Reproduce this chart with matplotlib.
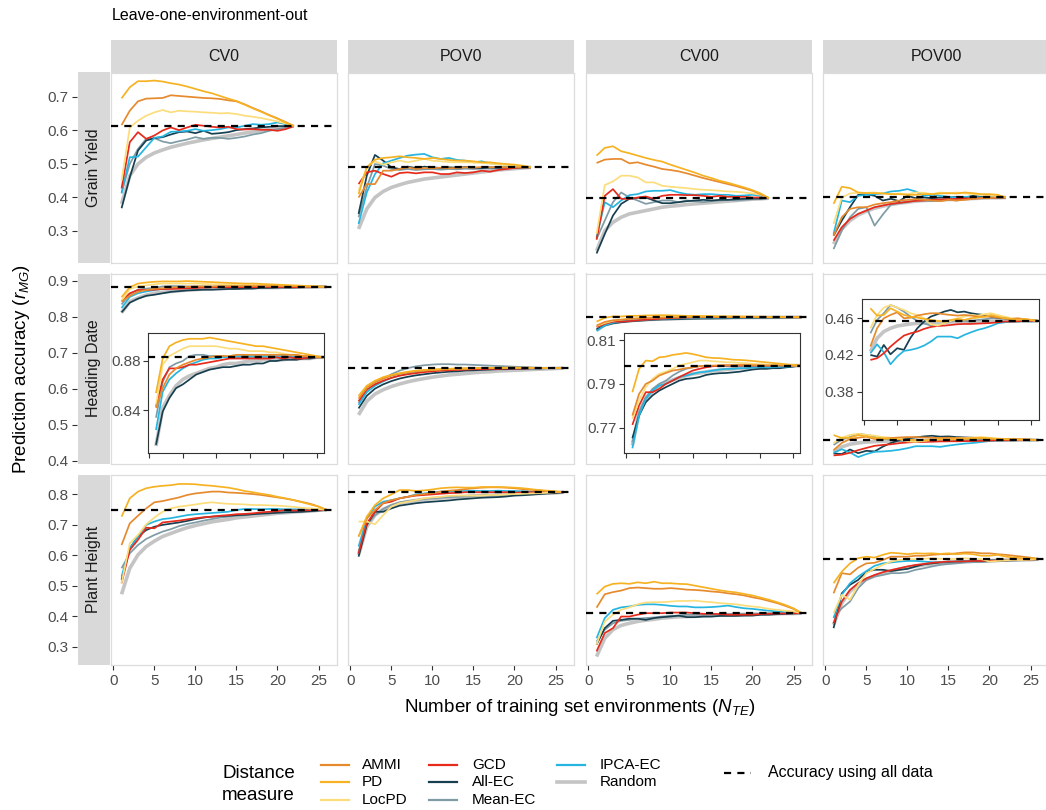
import matplotlib
matplotlib.use("Agg")
import matplotlib.pyplot as plt
from matplotlib.lines import Line2D
from matplotlib.patches import Rectangle

plt.rcParams['font.family'] = ['Liberation Sans', 'DejaVu Sans']
plt.rcParams['mathtext.fontset'] = 'custom'
plt.rcParams['mathtext.rm'] = 'Liberation Sans'
plt.rcParams['mathtext.it'] = 'Liberation Sans:italic'

# ---------------- data ----------------
methods = ["AMMI", "PD", "LocPD", "GCD", "All-EC", "Mean-EC", "IPCA-EC", "Random"]
colors = {"AMMI": "#E68A2E", "PD": "#F6B223", "LocPD": "#FCDD7C", "GCD": "#E62A1C",
          "All-EC": "#173F4F", "Mean-EC": "#7F9BA5", "IPCA-EC": "#25B5E0", "Random": "#C4C4C4"}
traits = ["Grain Yield", "Heading Date", "Plant Height"]
scenarios = ["CV0", "POV0", "CV00", "POV00"]
x_ticks = [0, 5, 10, 15, 20, 25]
y_ticks_gy = [0.3, 0.4, 0.5, 0.6, 0.7]
y_ticks_hd = [0.4, 0.5, 0.6, 0.7, 0.8, 0.9]
y_ticks_ph = [0.3, 0.4, 0.5, 0.6, 0.7, 0.8]

# accuracy using all data (dashed line), per scenario
acc_all_gy = [0.612, 0.489, 0.397, 0.399]
acc_all_hd = [0.883, 0.657, 0.7984, 0.4571]
acc_all_ph = [0.748, 0.806, 0.410, 0.587]

# ---- Grain Yield, CV0 (N = 1..22)
gy_cv0_ammi = [0.615,0.658,0.686,0.694,0.695,0.696,0.704,0.702,0.700,0.698,0.696,0.695,0.693,0.689,0.686,0.677,0.666,0.656,0.645,0.635,0.624,0.612]
gy_cv0_pd = [0.695,0.728,0.746,0.746,0.748,0.745,0.740,0.736,0.730,0.723,0.716,0.710,0.702,0.694,0.687,0.676,0.665,0.655,0.644,0.634,0.623,0.612]
gy_cv0_locpd = [0.449,0.608,0.628,0.643,0.653,0.660,0.653,0.658,0.656,0.655,0.653,0.652,0.650,0.651,0.648,0.643,0.640,0.636,0.631,0.626,0.620,0.612]
gy_cv0_gcd = [0.426,0.564,0.594,0.574,0.584,0.599,0.608,0.600,0.608,0.616,0.613,0.610,0.608,0.610,0.603,0.602,0.603,0.601,0.601,0.598,0.603,0.612]
gy_cv0_allec = [0.367,0.459,0.539,0.569,0.576,0.579,0.587,0.594,0.596,0.591,0.598,0.589,0.591,0.594,0.600,0.603,0.605,0.608,0.610,0.612,0.612,0.612]
gy_cv0_meanec = [0.414,0.499,0.544,0.574,0.576,0.566,0.561,0.567,0.572,0.579,0.574,0.577,0.577,0.574,0.577,0.581,0.587,0.591,0.598,0.603,0.608,0.612]
gy_cv0_ipca = [0.411,0.519,0.521,0.549,0.577,0.581,0.595,0.596,0.598,0.603,0.598,0.600,0.603,0.608,0.608,0.613,0.618,0.616,0.618,0.623,0.618,0.612]
gy_cv0_random = [0.380,0.464,0.499,0.519,0.532,0.541,0.549,0.555,0.561,0.566,0.571,0.575,0.579,0.583,0.587,0.591,0.595,0.598,0.602,0.606,0.610,0.612]

# ---- Grain Yield, POV0
gy_pov0_ammi = [0.399,0.439,0.439,0.479,0.479,0.484,0.489,0.484,0.487,0.486,0.488,0.486,0.487,0.489,0.488,0.490,0.489,0.490,0.489,0.489,0.489,0.489]
gy_pov0_pd = [0.409,0.489,0.512,0.517,0.519,0.522,0.519,0.517,0.514,0.517,0.514,0.511,0.509,0.509,0.507,0.504,0.504,0.501,0.499,0.497,0.494,0.489]
gy_pov0_locpd = [0.419,0.489,0.507,0.497,0.504,0.509,0.504,0.509,0.514,0.509,0.507,0.505,0.504,0.504,0.503,0.502,0.500,0.498,0.496,0.494,0.492,0.489]
gy_pov0_gcd = [0.439,0.474,0.479,0.469,0.461,0.472,0.474,0.471,0.474,0.474,0.469,0.469,0.474,0.472,0.474,0.479,0.476,0.481,0.484,0.487,0.489,0.489]
gy_pov0_allec = [0.350,0.464,0.526,0.509,0.489,0.484,0.491,0.487,0.491,0.489,0.487,0.489,0.488,0.490,0.488,0.487,0.489,0.488,0.489,0.488,0.489,0.489]
gy_pov0_meanec = [0.340,0.429,0.499,0.494,0.484,0.481,0.484,0.481,0.483,0.484,0.482,0.484,0.483,0.485,0.484,0.485,0.486,0.486,0.487,0.488,0.488,0.489]
gy_pov0_ipca = [0.320,0.414,0.469,0.501,0.509,0.517,0.524,0.527,0.529,0.519,0.514,0.517,0.511,0.509,0.504,0.507,0.501,0.499,0.497,0.494,0.491,0.489]
gy_pov0_random = [0.305,0.365,0.399,0.417,0.429,0.437,0.444,0.449,0.454,0.457,0.460,0.463,0.466,0.469,0.472,0.475,0.478,0.481,0.483,0.485,0.487,0.489]

# ---- Grain Yield, CV00
gy_cv00_ammi = [0.502,0.512,0.514,0.514,0.501,0.504,0.497,0.491,0.484,0.481,0.477,0.471,0.464,0.457,0.451,0.445,0.439,0.433,0.426,0.419,0.409,0.397]
gy_cv00_pd = [0.524,0.547,0.552,0.537,0.531,0.524,0.517,0.511,0.506,0.497,0.489,0.481,0.473,0.464,0.457,0.449,0.443,0.436,0.429,0.421,0.411,0.397]
gy_cv00_locpd = [0.290,0.436,0.447,0.464,0.464,0.459,0.444,0.444,0.434,0.431,0.429,0.427,0.424,0.422,0.421,0.419,0.417,0.416,0.414,0.411,0.407,0.397]
gy_cv00_gcd = [0.273,0.404,0.424,0.395,0.395,0.399,0.402,0.395,0.404,0.407,0.407,0.406,0.406,0.404,0.401,0.404,0.401,0.401,0.401,0.399,0.399,0.397]
gy_cv00_allec = [0.232,0.290,0.345,0.380,0.395,0.398,0.399,0.390,0.382,0.382,0.385,0.388,0.390,0.392,0.390,0.392,0.392,0.394,0.395,0.396,0.396,0.397]
gy_cv00_meanec = [0.275,0.330,0.385,0.414,0.399,0.390,0.380,0.385,0.390,0.390,0.385,0.390,0.388,0.385,0.388,0.390,0.392,0.390,0.392,0.394,0.395,0.397]
gy_cv00_ipca = [0.280,0.385,0.370,0.390,0.406,0.409,0.417,0.419,0.419,0.421,0.414,0.409,0.407,0.409,0.409,0.407,0.407,0.404,0.405,0.407,0.404,0.397]
gy_cv00_random = [0.240,0.300,0.325,0.340,0.350,0.355,0.360,0.365,0.370,0.373,0.375,0.378,0.380,0.382,0.384,0.386,0.388,0.390,0.392,0.394,0.395,0.397]

# ---- Grain Yield, POV00
gy_pov00_ammi = [0.285,0.340,0.365,0.370,0.370,0.378,0.382,0.385,0.390,0.392,0.394,0.392,0.390,0.388,0.392,0.390,0.392,0.395,0.397,0.397,0.399,0.399]
gy_pov00_pd = [0.380,0.431,0.427,0.414,0.412,0.412,0.411,0.409,0.409,0.407,0.407,0.409,0.409,0.411,0.412,0.411,0.414,0.412,0.409,0.409,0.407,0.399]
gy_pov00_locpd = [0.320,0.399,0.411,0.413,0.413,0.414,0.411,0.409,0.411,0.409,0.414,0.413,0.409,0.414,0.411,0.414,0.411,0.409,0.407,0.405,0.403,0.399]
gy_pov00_gcd = [0.270,0.310,0.335,0.350,0.360,0.370,0.375,0.380,0.383,0.386,0.389,0.390,0.392,0.393,0.394,0.395,0.396,0.396,0.397,0.398,0.399,0.399]
gy_pov00_allec = [0.285,0.330,0.370,0.407,0.409,0.404,0.390,0.395,0.388,0.404,0.397,0.399,0.397,0.399,0.399,0.401,0.399,0.404,0.401,0.399,0.399,0.399]
gy_pov00_meanec = [0.245,0.300,0.340,0.365,0.370,0.315,0.348,0.378,0.382,0.385,0.390,0.390,0.388,0.390,0.392,0.390,0.395,0.397,0.399,0.399,0.399,0.399]
gy_pov00_ipca = [0.290,0.390,0.385,0.404,0.407,0.409,0.411,0.417,0.419,0.424,0.417,0.404,0.407,0.404,0.401,0.399,0.401,0.401,0.399,0.399,0.399,0.399]
gy_pov00_random = [0.260,0.305,0.330,0.347,0.358,0.367,0.373,0.378,0.382,0.385,0.388,0.390,0.391,0.392,0.393,0.394,0.395,0.396,0.397,0.398,0.398,0.399]

# ---- Heading Date, CV0 (N = 1..26)
hd_cv0_ammi = [0.842,0.858,0.869,0.874,0.877,0.879,0.881,0.882,0.883,0.884,0.884,0.884,0.885,0.885,0.885,0.885,0.885,0.885,0.885,0.885,0.885,0.885,0.884,0.884,0.883,0.883]
hd_cv0_pd = [0.854,0.882,0.892,0.895,0.897,0.898,0.898,0.898,0.899,0.898,0.897,0.896,0.895,0.894,0.893,0.892,0.892,0.891,0.890,0.889,0.888,0.887,0.886,0.885,0.884,0.883]
hd_cv0_locpd = [0.844,0.877,0.884,0.887,0.890,0.892,0.892,0.892,0.892,0.892,0.891,0.890,0.890,0.889,0.888,0.888,0.888,0.887,0.887,0.886,0.885,0.885,0.884,0.884,0.883,0.883]
hd_cv0_gcd = [0.843,0.865,0.874,0.874,0.875,0.877,0.877,0.878,0.879,0.880,0.881,0.882,0.882,0.882,0.882,0.882,0.882,0.882,0.883,0.882,0.883,0.882,0.882,0.883,0.883,0.883]
hd_cv0_allec = [0.812,0.839,0.850,0.858,0.861,0.865,0.869,0.871,0.873,0.874,0.875,0.875,0.876,0.877,0.877,0.878,0.878,0.880,0.880,0.881,0.881,0.881,0.882,0.882,0.883,0.883]
hd_cv0_meanec = [0.834,0.863,0.875,0.878,0.880,0.884,0.885,0.885,0.884,0.884,0.884,0.883,0.883,0.883,0.883,0.883,0.883,0.883,0.883,0.883,0.883,0.883,0.883,0.883,0.883,0.883]
hd_cv0_ipca = [0.824,0.855,0.865,0.870,0.874,0.877,0.879,0.881,0.882,0.882,0.883,0.883,0.884,0.884,0.884,0.884,0.884,0.884,0.884,0.884,0.884,0.884,0.884,0.884,0.883,0.883]
hd_cv0_random = [0.811,0.842,0.852,0.860,0.865,0.868,0.870,0.872,0.874,0.875,0.877,0.878,0.878,0.879,0.880,0.880,0.881,0.881,0.881,0.881,0.882,0.882,0.882,0.882,0.883,0.883]

# ---- Heading Date, POV0
hd_pov0_ammi = [0.572,0.602,0.618,0.628,0.636,0.641,0.645,0.648,0.650,0.652,0.653,0.654,0.655,0.656,0.656,0.657,0.657,0.658,0.658,0.658,0.658,0.658,0.657,0.657,0.657,0.657]
hd_pov0_pd = [0.580,0.608,0.622,0.632,0.638,0.643,0.647,0.650,0.652,0.653,0.654,0.655,0.656,0.656,0.657,0.657,0.658,0.658,0.658,0.658,0.658,0.658,0.658,0.657,0.657,0.657]
hd_pov0_locpd = [0.575,0.603,0.618,0.628,0.636,0.642,0.646,0.649,0.651,0.653,0.654,0.655,0.656,0.656,0.657,0.657,0.657,0.657,0.658,0.658,0.658,0.657,0.657,0.657,0.657,0.657]
hd_pov0_gcd = [0.565,0.598,0.612,0.622,0.630,0.636,0.640,0.643,0.646,0.648,0.650,0.651,0.652,0.653,0.654,0.654,0.655,0.655,0.656,0.656,0.656,0.657,0.657,0.657,0.657,0.657]
hd_pov0_allec = [0.545,0.580,0.600,0.612,0.621,0.628,0.633,0.637,0.640,0.643,0.645,0.647,0.648,0.650,0.651,0.652,0.653,0.654,0.654,0.655,0.655,0.656,0.656,0.657,0.657,0.657]
hd_pov0_meanec = [0.560,0.595,0.615,0.628,0.640,0.650,0.657,0.662,0.665,0.667,0.668,0.668,0.667,0.667,0.666,0.665,0.664,0.663,0.662,0.661,0.660,0.659,0.658,0.658,0.657,0.657]
hd_pov0_ipca = [0.555,0.590,0.608,0.620,0.630,0.637,0.642,0.646,0.649,0.651,0.653,0.654,0.655,0.656,0.656,0.657,0.657,0.657,0.657,0.657,0.657,0.657,0.657,0.657,0.657,0.657]
hd_pov0_random = [0.527,0.565,0.585,0.597,0.606,0.613,0.619,0.624,0.628,0.632,0.635,0.638,0.640,0.642,0.644,0.646,0.647,0.649,0.650,0.651,0.652,0.653,0.654,0.655,0.656,0.657]

# ---- Heading Date, CV00
hd_cv00_ammi = [0.7755,0.7854,0.7900,0.7915,0.7938,0.7950,0.7961,0.7966,0.7972,0.7976,0.7981,0.7984,0.7984,0.7985,0.7986,0.7986,0.7987,0.7987,0.7986,0.7986,0.7985,0.7985,0.7985,0.7984,0.7984,0.7984]
hd_cv00_pd = [0.7862,0.7969,0.8007,0.8004,0.8022,0.8025,0.8033,0.8037,0.8042,0.8037,0.8030,0.8022,0.8019,0.8018,0.8015,0.8011,0.8010,0.8008,0.8005,0.8002,0.7999,0.7996,0.7993,0.7990,0.7987,0.7984]
hd_cv00_locpd = [0.7740,0.7824,0.7885,0.7923,0.7946,0.7956,0.7969,0.7984,0.7992,0.7999,0.8007,0.8007,0.8004,0.8002,0.7999,0.7999,0.7996,0.7995,0.7992,0.7990,0.7989,0.7987,0.7987,0.7985,0.7984,0.7984]
hd_cv00_gcd = [0.7712,0.7801,0.7862,0.7862,0.7877,0.7900,0.7915,0.7931,0.7946,0.7961,0.7969,0.7976,0.7981,0.7984,0.7984,0.7985,0.7984,0.7985,0.7984,0.7985,0.7984,0.7984,0.7985,0.7984,0.7984,0.7984]
hd_cv00_allec = [0.7651,0.7755,0.7816,0.7847,0.7869,0.7885,0.7900,0.7915,0.7923,0.7926,0.7931,0.7941,0.7946,0.7949,0.7950,0.7953,0.7956,0.7961,0.7966,0.7969,0.7969,0.7972,0.7972,0.7976,0.7979,0.7984]
hd_cv00_meanec = [0.7633,0.7770,0.7839,0.7877,0.7900,0.7915,0.7938,0.7956,0.7969,0.7976,0.7981,0.7984,0.7982,0.7981,0.7982,0.7981,0.7982,0.7982,0.7983,0.7982,0.7983,0.7983,0.7983,0.7984,0.7984,0.7984]
hd_cv00_ipca = [0.7605,0.7755,0.7831,0.7869,0.7892,0.7900,0.7915,0.7931,0.7938,0.7946,0.7953,0.7956,0.7961,0.7966,0.7969,0.7969,0.7972,0.7972,0.7975,0.7976,0.7976,0.7976,0.7979,0.7979,0.7981,0.7984]
hd_cv00_random = [0.7618,0.7770,0.7831,0.7865,0.7889,0.7905,0.7918,0.7929,0.7938,0.7946,0.7950,0.7955,0.7960,0.7963,0.7966,0.7969,0.7972,0.7973,0.7975,0.7976,0.7978,0.7979,0.7981,0.7982,0.7984,0.7984]

# ---- Heading Date, POV00
hd_pov00_ammi = [0.4291,0.4491,0.4600,0.4636,0.4665,0.4600,0.4607,0.4629,0.4644,0.4655,0.4655,0.4644,0.4636,0.4629,0.4636,0.4629,0.4618,0.4618,0.4618,0.4607,0.4600,0.4593,0.4600,0.4589,0.4582,0.4571]
hd_pov00_pd = [0.4709,0.4629,0.4636,0.4709,0.4673,0.4636,0.4618,0.4607,0.4593,0.4582,0.4571,0.4564,0.4582,0.4593,0.4582,0.4600,0.4607,0.4618,0.4636,0.4618,0.4600,0.4593,0.4582,0.4593,0.4582,0.4571]
hd_pov00_locpd = [0.4491,0.4636,0.4716,0.4745,0.4716,0.4691,0.4655,0.4636,0.4600,0.4535,0.4520,0.4545,0.4571,0.4600,0.4618,0.4636,0.4629,0.4644,0.4655,0.4636,0.4618,0.4600,0.4593,0.4582,0.4578,0.4571]
hd_pov00_gcd = [0.4145,0.4164,0.4218,0.4291,0.4353,0.4411,0.4436,0.4455,0.4484,0.4505,0.4516,0.4520,0.4527,0.4535,0.4538,0.4538,0.4542,0.4545,0.4549,0.4556,0.4564,0.4564,0.4567,0.4571,0.4571,0.4571]
hd_pov00_allec = [0.4200,0.4182,0.4309,0.4207,0.4273,0.4255,0.4389,0.4491,0.4564,0.4618,0.4644,0.4673,0.4691,0.4665,0.4673,0.4655,0.4644,0.4636,0.4618,0.4607,0.4600,0.4593,0.4582,0.4582,0.4578,0.4571]
hd_pov00_meanec = [0.4436,0.4582,0.4655,0.4745,0.4716,0.4673,0.4618,0.4571,0.4545,0.4520,0.4520,0.4545,0.4564,0.4582,0.4571,0.4564,0.4582,0.4589,0.4600,0.4600,0.4593,0.4582,0.4589,0.4582,0.4578,0.4571]
hd_pov00_ipca = [0.4218,0.4316,0.4229,0.4098,0.4182,0.4244,0.4255,0.4273,0.4302,0.4345,0.4400,0.4400,0.4400,0.4382,0.4418,0.4447,0.4473,0.4491,0.4516,0.4545,0.4556,0.4564,0.4564,0.4571,0.4564,0.4571]
hd_pov00_random = [0.4236,0.4382,0.4455,0.4491,0.4516,0.4527,0.4538,0.4545,0.4549,0.4553,0.4556,0.4558,0.4560,0.4562,0.4564,0.4565,0.4566,0.4567,0.4568,0.4569,0.4569,0.4570,0.4570,0.4571,0.4571,0.4571]

# ---- Plant Height, CV0
ph_cv0_ammi = [0.633,0.704,0.729,0.753,0.773,0.777,0.783,0.789,0.797,0.802,0.805,0.808,0.808,0.805,0.804,0.802,0.800,0.797,0.793,0.789,0.785,0.780,0.774,0.768,0.759,0.748]
ph_cv0_pd = [0.726,0.786,0.808,0.819,0.824,0.827,0.829,0.833,0.833,0.832,0.829,0.827,0.824,0.821,0.816,0.810,0.806,0.801,0.797,0.791,0.786,0.780,0.773,0.766,0.759,0.748]
ph_cv0_locpd = [0.508,0.639,0.666,0.701,0.723,0.742,0.753,0.759,0.762,0.766,0.770,0.773,0.770,0.768,0.767,0.766,0.764,0.764,0.763,0.762,0.760,0.758,0.755,0.753,0.751,0.748]
ph_cv0_gcd = [0.508,0.617,0.650,0.690,0.688,0.707,0.710,0.713,0.717,0.721,0.724,0.726,0.729,0.731,0.734,0.735,0.737,0.740,0.742,0.744,0.748,0.746,0.747,0.747,0.748,0.748]
ph_cv0_allec = [0.519,0.622,0.661,0.682,0.693,0.699,0.703,0.707,0.712,0.718,0.723,0.726,0.728,0.729,0.731,0.732,0.734,0.736,0.737,0.739,0.740,0.741,0.742,0.744,0.746,0.748]
ph_cv0_meanec = [0.557,0.606,0.633,0.653,0.666,0.677,0.685,0.695,0.702,0.707,0.713,0.718,0.723,0.726,0.729,0.731,0.734,0.736,0.737,0.739,0.741,0.742,0.743,0.746,0.747,0.748]
ph_cv0_ipca = [0.530,0.622,0.661,0.699,0.710,0.718,0.721,0.726,0.731,0.734,0.736,0.738,0.740,0.742,0.748,0.751,0.751,0.750,0.751,0.751,0.750,0.750,0.750,0.749,0.749,0.748]
ph_cv0_random = [0.472,0.557,0.601,0.628,0.646,0.661,0.671,0.681,0.690,0.697,0.703,0.709,0.713,0.717,0.722,0.725,0.728,0.731,0.734,0.737,0.739,0.741,0.743,0.744,0.747,0.748]

# ---- Plant Height, POV0
ph_pov0_ammi = [0.661,0.720,0.748,0.770,0.780,0.786,0.791,0.797,0.800,0.803,0.808,0.811,0.813,0.816,0.819,0.821,0.822,0.822,0.821,0.819,0.816,0.814,0.812,0.810,0.808,0.806]
ph_pov0_pd = [0.661,0.726,0.764,0.786,0.799,0.813,0.813,0.810,0.812,0.815,0.819,0.821,0.822,0.821,0.821,0.823,0.823,0.823,0.822,0.821,0.819,0.816,0.813,0.811,0.809,0.806]
ph_pov0_locpd = [0.710,0.710,0.701,0.731,0.759,0.770,0.775,0.780,0.786,0.789,0.791,0.794,0.795,0.795,0.795,0.795,0.797,0.797,0.799,0.800,0.801,0.802,0.803,0.804,0.806,0.806]
ph_pov0_gcd = [0.606,0.704,0.742,0.770,0.775,0.786,0.791,0.795,0.797,0.799,0.801,0.803,0.804,0.806,0.806,0.806,0.806,0.806,0.806,0.804,0.806,0.806,0.806,0.806,0.806,0.806]
ph_pov0_allec = [0.595,0.699,0.742,0.742,0.753,0.762,0.766,0.770,0.773,0.775,0.777,0.779,0.782,0.784,0.786,0.788,0.789,0.790,0.792,0.795,0.796,0.798,0.800,0.802,0.803,0.806]
ph_pov0_meanec = [0.612,0.699,0.731,0.751,0.764,0.773,0.777,0.780,0.784,0.786,0.788,0.790,0.791,0.792,0.794,0.795,0.796,0.797,0.798,0.799,0.800,0.801,0.802,0.803,0.804,0.806]
ph_pov0_ipca = [0.628,0.720,0.759,0.775,0.780,0.786,0.791,0.799,0.802,0.806,0.808,0.808,0.810,0.810,0.811,0.810,0.810,0.811,0.810,0.810,0.809,0.808,0.808,0.807,0.807,0.806]
ph_pov0_random = [0.601,0.693,0.731,0.750,0.762,0.770,0.775,0.779,0.783,0.785,0.787,0.789,0.791,0.792,0.794,0.795,0.796,0.797,0.798,0.799,0.800,0.801,0.802,0.803,0.804,0.806]

# ---- Plant Height, CV00
ph_cv00_ammi = [0.428,0.472,0.479,0.484,0.492,0.494,0.492,0.490,0.490,0.492,0.490,0.487,0.486,0.484,0.481,0.479,0.475,0.472,0.468,0.462,0.457,0.450,0.443,0.434,0.424,0.410]
ph_cv00_pd = [0.472,0.497,0.506,0.508,0.506,0.511,0.508,0.513,0.508,0.508,0.506,0.505,0.500,0.495,0.490,0.485,0.481,0.478,0.473,0.468,0.461,0.454,0.446,0.437,0.426,0.410]
ph_cv00_locpd = [0.307,0.383,0.405,0.421,0.429,0.439,0.445,0.446,0.446,0.448,0.450,0.450,0.451,0.448,0.446,0.443,0.441,0.439,0.435,0.432,0.429,0.424,0.421,0.418,0.416,0.410]
ph_cv00_gcd = [0.285,0.345,0.361,0.399,0.399,0.405,0.410,0.410,0.410,0.412,0.412,0.412,0.410,0.408,0.408,0.407,0.405,0.405,0.405,0.405,0.407,0.408,0.409,0.409,0.410,0.410]
ph_cv00_allec = [0.307,0.361,0.385,0.388,0.392,0.392,0.388,0.394,0.397,0.399,0.402,0.397,0.397,0.399,0.399,0.401,0.401,0.401,0.402,0.402,0.405,0.405,0.407,0.408,0.409,0.410]
ph_cv00_meanec = [0.317,0.356,0.377,0.385,0.388,0.392,0.394,0.396,0.399,0.401,0.402,0.405,0.405,0.405,0.406,0.406,0.407,0.407,0.408,0.408,0.408,0.409,0.409,0.409,0.410,0.410]
ph_cv00_ipca = [0.328,0.394,0.421,0.429,0.432,0.437,0.439,0.439,0.437,0.434,0.432,0.432,0.429,0.429,0.430,0.432,0.435,0.430,0.426,0.424,0.421,0.418,0.416,0.413,0.412,0.410]
ph_cv00_random = [0.268,0.328,0.356,0.370,0.377,0.383,0.387,0.390,0.394,0.396,0.398,0.399,0.400,0.401,0.402,0.404,0.405,0.406,0.406,0.407,0.407,0.408,0.408,0.409,0.409,0.410]

# ---- Plant Height, POV00
ph_pov00_ammi = [0.475,0.541,0.537,0.559,0.573,0.575,0.584,0.595,0.595,0.595,0.598,0.598,0.601,0.603,0.603,0.606,0.609,0.609,0.606,0.606,0.603,0.601,0.598,0.595,0.592,0.587]
ph_pov00_pd = [0.508,0.546,0.573,0.590,0.595,0.592,0.601,0.608,0.606,0.603,0.606,0.605,0.606,0.604,0.606,0.603,0.605,0.603,0.598,0.598,0.601,0.595,0.592,0.590,0.590,0.587]
ph_pov00_locpd = [0.410,0.470,0.454,0.503,0.541,0.555,0.568,0.579,0.584,0.587,0.587,0.588,0.590,0.588,0.587,0.588,0.590,0.588,0.587,0.579,0.581,0.583,0.584,0.584,0.585,0.587]
ph_pov00_gcd = [0.377,0.448,0.486,0.508,0.524,0.535,0.544,0.551,0.557,0.563,0.568,0.571,0.575,0.577,0.579,0.579,0.580,0.581,0.581,0.582,0.583,0.583,0.584,0.585,0.585,0.587]
ph_pov00_allec = [0.361,0.475,0.503,0.519,0.546,0.552,0.552,0.548,0.552,0.555,0.563,0.570,0.573,0.576,0.577,0.579,0.580,0.581,0.581,0.582,0.583,0.583,0.584,0.584,0.585,0.587]
ph_pov00_meanec = [0.394,0.426,0.448,0.492,0.519,0.530,0.535,0.541,0.541,0.544,0.552,0.557,0.563,0.568,0.571,0.573,0.576,0.577,0.577,0.579,0.580,0.581,0.582,0.583,0.584,0.587]
ph_pov00_ipca = [0.394,0.470,0.508,0.530,0.548,0.565,0.573,0.576,0.579,0.581,0.581,0.579,0.577,0.577,0.579,0.579,0.581,0.582,0.583,0.583,0.584,0.584,0.584,0.585,0.585,0.587]
ph_pov00_random = [0.372,0.443,0.481,0.505,0.521,0.532,0.541,0.548,0.554,0.559,0.564,0.568,0.571,0.573,0.576,0.577,0.579,0.580,0.581,0.582,0.583,0.584,0.584,0.585,0.585,0.587]

# ---------------- assemble ----------------
G = globals()
keys = {"AMMI": "ammi", "PD": "pd", "LocPD": "locpd", "GCD": "gcd", "All-EC": "allec",
        "Mean-EC": "meanec", "IPCA-EC": "ipca", "Random": "random"}
tcode = {"Grain Yield": "gy", "Heading Date": "hd", "Plant Height": "ph"}
scode = {"CV0": "cv0", "POV0": "pov0", "CV00": "cv00", "POV00": "pov00"}
acc_all = {"Grain Yield": acc_all_gy, "Heading Date": acc_all_hd, "Plant Height": acc_all_ph}
yticks = {"Grain Yield": y_ticks_gy, "Heading Date": y_ticks_hd, "Plant Height": y_ticks_ph}

def series(trait, scen):
    return {m: G[f"{tcode[trait]}_{scode[scen]}_{keys[m]}"] for m in methods}

draw_order = ["Random", "Mean-EC", "All-EC", "IPCA-EC", "GCD", "LocPD", "AMMI", "PD"]

# ---------------- layout (pixels) ----------------
W, H = 1046, 810
fig = plt.figure(figsize=(W / 100, H / 100), dpi=100)
fig.patch.set_facecolor("white")

def fx(px): return px / W
def fy(py): return 1 - py / H

def ax_px(l, t, r, b, **kw):
    return fig.add_axes([l / W, 1 - b / H, (r - l) / W, (b - t) / H], **kw)

col_l = [111.3, 348.3, 586.3, 823.3]
col_w = 225.7
row_t = [72.5, 273.5, 474.5]
row_b = [262.5, 463.5, 664.5]
ylims = {"Grain Yield": (0.205, 0.772), "Heading Date": (0.392, 0.920), "Plant Height": (0.242, 0.864)}
xlim = (-0.25, 27.25)
TICK_C = "#4D4D4D"
BORDER_C = "#DCDCDC"
STRIP_C = "#D9D9D9"

insets = {
    ("Heading Date", "CV0"): ((148.3, 333.0, 324.0, 453.0), (-0.15, 26.1), (0.8054, 0.9027), [0.84, 0.88], "{:.2f}"),
    ("Heading Date", "CV00"): ((624.0, 333.3, 799.7, 453.3), (-0.25, 26.0), (0.7582, 0.8132), [0.77, 0.79, 0.81], "{:.2f}"),
    ("Heading Date", "POV00"): ((862.0, 299.3, 1038.7, 420.0), (-0.25, 26.1), (0.349, 0.4807), [0.38, 0.42, 0.46], "{:.2f}"),
}

def draw_lines(ax, data, hline):
    for m in draw_order:
        v = data[m]
        xs = list(range(1, len(v) + 1))
        lw = 2.6 if m == "Random" else 1.25
        ax.plot(xs, v, color=colors[m], lw=lw, solid_capstyle="butt", zorder=2)
    ax.axhline(hline, color="black", lw=1.6, linestyle=(0, (3.2, 2.8)), zorder=3)

for ri, trait in enumerate(traits):
    for ci, scen in enumerate(scenarios):
        ax = ax_px(col_l[ci], row_t[ri], col_l[ci] + col_w, row_b[ri])
        data = series(trait, scen)
        draw_lines(ax, data, acc_all[trait][ci])
        ax.set_xlim(*xlim)
        ax.set_ylim(*ylims[trait])
        ax.set_yticks([])
        for sp in ax.spines.values():
            sp.set_color(BORDER_C)
            sp.set_linewidth(0.9)
        if ri == 2:
            ax.set_xticks(x_ticks)
            ax.set_xticklabels([str(t) for t in x_ticks])
            ax.tick_params(axis="x", length=3.5, width=0.8, color="#333333",
                           labelsize=11, labelcolor=TICK_C, pad=3)
        else:
            ax.set_xticks([])
        # inset
        if (trait, scen) in insets:
            (l, t, r, b), ixl, iyl, iyt, fmt = insets[(trait, scen)]
            ia = ax_px(l, t, r, b)
            ia.set_facecolor("white")
            draw_lines(ia, data, acc_all[trait][ci])
            ia.set_xlim(*ixl)
            ia.set_ylim(*iyl)
            ia.set_xticks(x_ticks)
            ia.set_xticklabels([])
            ia.set_yticks(iyt)
            ia.set_yticklabels([fmt.format(v) for v in iyt])
            ia.tick_params(axis="both", length=3.5, width=0.8, color="#333333",
                           labelsize=11, labelcolor=TICK_C, pad=2)
            for sp in ia.spines.values():
                sp.set_color("#333333")
                sp.set_linewidth(0.8)
            ia.set_zorder(5)

    # row strip (left) + y axis
    fig.add_artist(Rectangle((fx(77.5), fy(row_b[ri])), fx(109.5) - fx(77.5),
                             fy(row_t[ri]) - fy(row_b[ri]), transform=fig.transFigure,
                             facecolor=STRIP_C, edgecolor="none"))
    fig.text(fx(93.5), fy((row_t[ri] + row_b[ri]) / 2), trait, rotation=90,
             ha="center", va="center", fontsize=11.5, color="#1A1A1A")
    yax = ax_px(76.5, row_t[ri], 77.5, row_b[ri])
    yax.set_ylim(*ylims[trait])
    yax.set_xticks([])
    yax.set_yticks(yticks[trait])
    yax.set_yticklabels([f"{v:.1f}" for v in yticks[trait]])
    yax.tick_params(axis="y", length=3.5, width=0.8, color="#333333",
                    labelsize=11, labelcolor=TICK_C, pad=2)
    for sp in yax.spines.values():
        sp.set_visible(False)
    yax.patch.set_alpha(0)

# column strips
for ci, scen in enumerate(scenarios):
    fig.add_artist(Rectangle((fx(col_l[ci]), fy(72.5)), col_w / W, (72.5 - 40.0) / H,
                             transform=fig.transFigure, facecolor=STRIP_C, edgecolor="none"))
    fig.text(fx(col_l[ci] + col_w / 2), fy(56.5), scen, ha="center", va="center",
             fontsize=11.5, color="#1A1A1A")

# titles
fig.text(fx(112), fy(15), "Leave-one-environment-out", ha="left", va="center",
         fontsize=11.5, color="black")
fig.text(fx(22), fy((row_t[0] + row_b[2]) / 2), r"Prediction accuracy ($r_{MG}$)",
         rotation=90, ha="center", va="center", fontsize=13.5)
fig.text(fx(580), fy(708), r"Number of training set environments ($N_{TE}$)",
         ha="center", va="center", fontsize=13.5)

# legend (drawn manually)
fig.text(fx(222), fy(773), "Distance", ha="left", va="center", fontsize=13.5)
fig.text(fx(222), fy(796), "measure", ha="left", va="center", fontsize=13.5)
leg_cols = [(321, 362), (429, 472), (557, 600)]
leg_rows = [765, 782, 800]
for i, m in enumerate(methods):
    c, r = divmod(i, 3)
    x0, xt = leg_cols[c]
    y = leg_rows[r]
    fig.add_artist(Line2D([fx(x0), fx(x0 + 28)], [fy(y), fy(y)], transform=fig.transFigure,
                          color=colors[m], lw=2.6 if m == "Random" else 1.6))
    fig.text(fx(xt), fy(y), m, ha="left", va="center", fontsize=11)
fig.add_artist(Line2D([fx(724), fx(751)], [fy(773), fy(773)], transform=fig.transFigure,
                      color="black", lw=1.6, linestyle=(0, (3.2, 2.8))))
fig.text(fx(768), fy(773), "Accuracy using all data", ha="left", va="center", fontsize=11.5)

fig.savefig("out.png", dpi=100)
